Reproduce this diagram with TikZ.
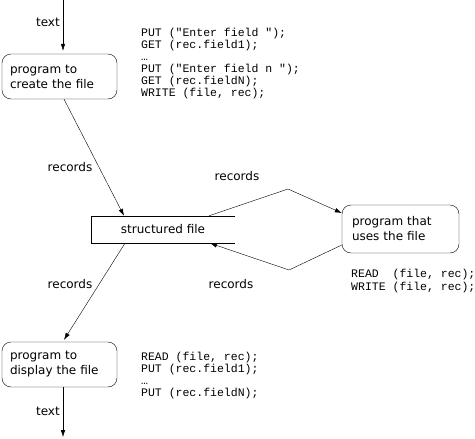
\documentclass[tikz,border=0pt]{standalone}
\usepackage{fontspec}
\setmainfont{DejaVu Sans}
\newfontfamily\codefont{Liberation Mono}
\usetikzlibrary{positioning,calc,arrows.meta}
\tikzset{
	prog/.style={draw,rounded corners=9pt,minimum height=45pt,inner xsep=8pt,text width=99pt,align=left,font=\fontsize{12}{15}\selectfont},
	lbl/.style={inner sep=0pt,font=\fontsize{12}{14}\selectfont},
	code/.style={inner sep=0pt,anchor=north west,align=left,font=\codefont\fontsize{11.5}{12}\selectfont},
	flow/.style={-{Latex[length=7pt,width=4.5pt]}}
}
\begin{document}
\begin{tikzpicture}[x=1pt,y=-1pt]
\useasboundingbox (0,0) rectangle (475,439);
\node [prog] (create) at (59.5,76.5) {program to\\create the file};
\node [prog] (display) at (59.5,364.5) {program to\\display the file};
\node [prog,minimum height=48pt,inner xsep=10pt,text width=97pt] (uses) at (400.5,229) {program that\\uses the file};
\node [minimum width=144pt,minimum height=27pt,inner sep=0pt,font=\fontsize{12}{14}\selectfont] (file) at (163,229.5) {structured file};
\draw (file.north east) -- (file.north west) -- (file.south west) -- (file.south east);
\coordinate (in) at (63,0);
\coordinate (out) at (63,439);
\coordinate (up) at (288,189);
\coordinate (down) at (289,270);
% connectors
\draw [flow,shorten >=3pt] (in) -- (in |- create.north);
\draw [flow] ([xshift=4.5pt]create.south) -- ([xshift=-39pt]file.north);
\draw [flow] ([xshift=46pt]file.north) -- (up) -- ([yshift=16pt]uses.west);
\draw [flow] ([yshift=-16pt]uses.west) -- (down) -- ([xshift=47pt]file.south);
\draw [flow] ([xshift=-38pt]file.south) -- ([xshift=4.5pt,yshift=2pt]display.north);
\draw [flow,shorten >=2pt] (out |- display.south) -- (out);
% labels
\node [lbl,anchor=east] (t1) at (60,22) {text};
\node [lbl] (r1) at (70,167) {records};
\node [lbl] (r2) at (237,176) {records};
\node [lbl] (r3) at (231,284) {records};
\node [lbl] (r4) at (70,284) {records};
\node [lbl,anchor=east] (t2) at (60,411) {text};
% code
\node [code] (c1) at (141,28) {PUT ("Enter field ");\\GET (rec.field1);\\…\\PUT ("Enter field n ");\\GET (rec.fieldN);\\WRITE (file, rec);};
\node [code,font=\codefont\fontsize{11.5}{13}\selectfont] (c2) at (351,269) {READ~~(file, rec);\\WRITE (file, rec);};
\node [code] (c3) at (141,352) {READ (file, rec);\\PUT (rec.field1);\\…\\PUT (rec.fieldN);};
\end{tikzpicture}
\end{document}
